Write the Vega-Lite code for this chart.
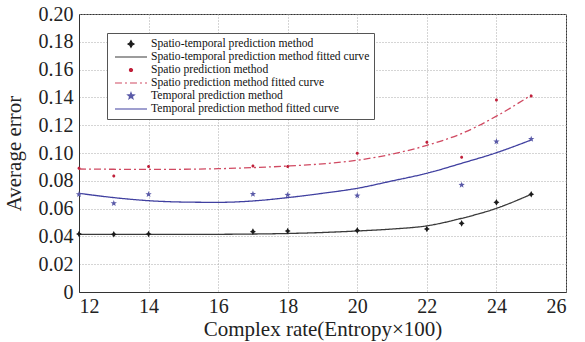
{
  "$schema": "https://vega.github.io/schema/vega-lite/v6.json",
  "width": 487,
  "height": 278,
  "autosize": {"type": "none"},
  "padding": {"left": 79, "top": 14, "right": 19, "bottom": 50},
  "background": "white",
  "config": {
    "view": {"stroke": "#333", "strokeWidth": 1},
    "font": "Liberation Serif",
    "axis": {
      "labelFont": "Liberation Serif",
      "titleFont": "Liberation Serif",
      "labelFontSize": 20,
      "titleFontSize": 21,
      "titleFontWeight": "normal",
      "labelColor": "#222",
      "titleColor": "#222",
      "gridColor": "#aaa",
      "gridDash": [1, 2],
      "gridWidth": 1,
      "domainColor": "#333",
      "ticks": false
    },
    "legend": {
      "orient": "none",
      "legendX": 28,
      "legendY": 19,
      "padding": 4,
      "strokeColor": "#555",
      "fillColor": "white",
      "labelFont": "Liberation Serif",
      "labelFontSize": 11.6,
      "labelColor": "#111",
      "labelLimit": 300,
      "labelOffset": 13,
      "symbolOffset": 13,
      "rowPadding": 0,
      "symbolSize": 144,
      "symbolStrokeWidth": 1.2
    }
  },
  "data": {
    "values": [
      {"series": "Spatio-temporal prediction method", "kind": "pt", "x": 12, "y": 0.0417},
      {"series": "Spatio-temporal prediction method", "kind": "pt", "x": 13, "y": 0.0415},
      {"series": "Spatio-temporal prediction method", "kind": "pt", "x": 14, "y": 0.0417},
      {"series": "Spatio-temporal prediction method", "kind": "pt", "x": 17, "y": 0.0434},
      {"series": "Spatio-temporal prediction method", "kind": "pt", "x": 18, "y": 0.0439},
      {"series": "Spatio-temporal prediction method", "kind": "pt", "x": 20, "y": 0.0443},
      {"series": "Spatio-temporal prediction method", "kind": "pt", "x": 22, "y": 0.0453},
      {"series": "Spatio-temporal prediction method", "kind": "pt", "x": 23, "y": 0.0494},
      {"series": "Spatio-temporal prediction method", "kind": "pt", "x": 24, "y": 0.0645},
      {"series": "Spatio-temporal prediction method", "kind": "pt", "x": 25, "y": 0.0703},
      {"series": "Spatio prediction method", "kind": "pt", "x": 12, "y": 0.089},
      {"series": "Spatio prediction method", "kind": "pt", "x": 13, "y": 0.0834},
      {"series": "Spatio prediction method", "kind": "pt", "x": 14, "y": 0.0902},
      {"series": "Spatio prediction method", "kind": "pt", "x": 17, "y": 0.0906},
      {"series": "Spatio prediction method", "kind": "pt", "x": 18, "y": 0.0902},
      {"series": "Spatio prediction method", "kind": "pt", "x": 20, "y": 0.0998},
      {"series": "Spatio prediction method", "kind": "pt", "x": 22, "y": 0.1077},
      {"series": "Spatio prediction method", "kind": "pt", "x": 23, "y": 0.0969},
      {"series": "Spatio prediction method", "kind": "pt", "x": 24, "y": 0.1381},
      {"series": "Spatio prediction method", "kind": "pt", "x": 25, "y": 0.141},
      {"series": "Temporal prediction method", "kind": "pt", "x": 12, "y": 0.0703},
      {"series": "Temporal prediction method", "kind": "pt", "x": 13, "y": 0.0638},
      {"series": "Temporal prediction method", "kind": "pt", "x": 14, "y": 0.0703},
      {"series": "Temporal prediction method", "kind": "pt", "x": 17, "y": 0.0705},
      {"series": "Temporal prediction method", "kind": "pt", "x": 18, "y": 0.0698},
      {"series": "Temporal prediction method", "kind": "pt", "x": 20, "y": 0.0693},
      {"series": "Temporal prediction method", "kind": "pt", "x": 23, "y": 0.077},
      {"series": "Temporal prediction method", "kind": "pt", "x": 24, "y": 0.1082},
      {"series": "Temporal prediction method", "kind": "pt", "x": 25, "y": 0.110},
      {"series": "Spatio-temporal prediction method fitted curve", "kind": "fit", "x": 12, "y": 0.0414},
      {"series": "Spatio-temporal prediction method fitted curve", "kind": "fit", "x": 13, "y": 0.0414},
      {"series": "Spatio-temporal prediction method fitted curve", "kind": "fit", "x": 14, "y": 0.0414},
      {"series": "Spatio-temporal prediction method fitted curve", "kind": "fit", "x": 15, "y": 0.0414},
      {"series": "Spatio-temporal prediction method fitted curve", "kind": "fit", "x": 16, "y": 0.0415},
      {"series": "Spatio-temporal prediction method fitted curve", "kind": "fit", "x": 17, "y": 0.0417},
      {"series": "Spatio-temporal prediction method fitted curve", "kind": "fit", "x": 18, "y": 0.0421},
      {"series": "Spatio-temporal prediction method fitted curve", "kind": "fit", "x": 19, "y": 0.0428},
      {"series": "Spatio-temporal prediction method fitted curve", "kind": "fit", "x": 20, "y": 0.0439},
      {"series": "Spatio-temporal prediction method fitted curve", "kind": "fit", "x": 21, "y": 0.0453},
      {"series": "Spatio-temporal prediction method fitted curve", "kind": "fit", "x": 22, "y": 0.0476},
      {"series": "Spatio-temporal prediction method fitted curve", "kind": "fit", "x": 23, "y": 0.053},
      {"series": "Spatio-temporal prediction method fitted curve", "kind": "fit", "x": 24, "y": 0.0602},
      {"series": "Spatio-temporal prediction method fitted curve", "kind": "fit", "x": 25, "y": 0.0703},
      {"series": "Spatio prediction method fitted curve", "kind": "fit", "x": 12, "y": 0.0885},
      {"series": "Spatio prediction method fitted curve", "kind": "fit", "x": 13, "y": 0.0883},
      {"series": "Spatio prediction method fitted curve", "kind": "fit", "x": 14, "y": 0.0882},
      {"series": "Spatio prediction method fitted curve", "kind": "fit", "x": 15, "y": 0.0883},
      {"series": "Spatio prediction method fitted curve", "kind": "fit", "x": 16, "y": 0.0887},
      {"series": "Spatio prediction method fitted curve", "kind": "fit", "x": 17, "y": 0.0895},
      {"series": "Spatio prediction method fitted curve", "kind": "fit", "x": 18, "y": 0.0906},
      {"series": "Spatio prediction method fitted curve", "kind": "fit", "x": 19, "y": 0.0922},
      {"series": "Spatio prediction method fitted curve", "kind": "fit", "x": 20, "y": 0.0948},
      {"series": "Spatio prediction method fitted curve", "kind": "fit", "x": 21, "y": 0.0992},
      {"series": "Spatio prediction method fitted curve", "kind": "fit", "x": 22, "y": 0.1055},
      {"series": "Spatio prediction method fitted curve", "kind": "fit", "x": 23, "y": 0.114},
      {"series": "Spatio prediction method fitted curve", "kind": "fit", "x": 24, "y": 0.1265},
      {"series": "Spatio prediction method fitted curve", "kind": "fit", "x": 25, "y": 0.1417},
      {"series": "Temporal prediction method fitted curve", "kind": "fit", "x": 12, "y": 0.071},
      {"series": "Temporal prediction method fitted curve", "kind": "fit", "x": 13, "y": 0.0679},
      {"series": "Temporal prediction method fitted curve", "kind": "fit", "x": 14, "y": 0.0657},
      {"series": "Temporal prediction method fitted curve", "kind": "fit", "x": 15, "y": 0.0647},
      {"series": "Temporal prediction method fitted curve", "kind": "fit", "x": 16, "y": 0.0645},
      {"series": "Temporal prediction method fitted curve", "kind": "fit", "x": 17, "y": 0.0655},
      {"series": "Temporal prediction method fitted curve", "kind": "fit", "x": 18, "y": 0.0679},
      {"series": "Temporal prediction method fitted curve", "kind": "fit", "x": 19, "y": 0.071},
      {"series": "Temporal prediction method fitted curve", "kind": "fit", "x": 20, "y": 0.0746},
      {"series": "Temporal prediction method fitted curve", "kind": "fit", "x": 21, "y": 0.0799},
      {"series": "Temporal prediction method fitted curve", "kind": "fit", "x": 22, "y": 0.0854},
      {"series": "Temporal prediction method fitted curve", "kind": "fit", "x": 23, "y": 0.0926},
      {"series": "Temporal prediction method fitted curve", "kind": "fit", "x": 24, "y": 0.1002},
      {"series": "Temporal prediction method fitted curve", "kind": "fit", "x": 25, "y": 0.1094}
    ]
  },
  "encoding": {
    "x": {
      "field": "x", "type": "quantitative",
      "scale": {"domain": [12, 26], "nice": false, "zero": false},
      "axis": {"values": [12, 14, 16, 18, 20, 22, 24, 26], "title": "Complex rate(Entropy×100)", "labelFont": "Liberation Serif", "labelFontSize": 20, "labelPadding": 4, "titlePadding": 2}
    },
    "y": {
      "field": "y", "type": "quantitative",
      "scale": {"domain": [0, 0.2], "nice": false},
      "axis": {
        "values": [0, 0.02, 0.04, 0.06, 0.08, 0.1, 0.12, 0.14, 0.16, 0.18, 0.2],
        "labelExpr": "datum.value == 0 ? '0' : format(datum.value, '.2f')",
        "labelFont": "Liberation Serif", "labelFontSize": 20,
        "title": "Average error", "labelPadding": 6, "titlePadding": 14
      }
    }
  },
  "layer": [
    {
      "transform": [{"filter": "datum.kind == 'fit'"}],
      "mark": {"type": "line", "interpolate": "monotone", "strokeWidth": 1.3},
      "encoding": {
        "color": {
          "field": "series", "type": "nominal", "sort": null, "title": null,
          "scale": {
            "domain": ["Spatio-temporal prediction method", "Spatio-temporal prediction method fitted curve", "Spatio prediction method", "Spatio prediction method fitted curve", "Temporal prediction method", "Temporal prediction method fitted curve"],
            "range": ["#1a1a1a", "#3a3a3a", "#c0203a", "#d04a62", "#5a5aa8", "#4040a0"]
          }
        },
        "strokeDash": {
          "field": "series", "type": "nominal", "sort": null, "title": null,
          "scale": {
            "domain": ["Spatio-temporal prediction method", "Spatio-temporal prediction method fitted curve", "Spatio prediction method", "Spatio prediction method fitted curve", "Temporal prediction method", "Temporal prediction method fitted curve"],
            "range": [[1, 0], [1, 0], [1, 0], [7, 3, 2, 3], [1, 0], [1, 0]]
          }
        }
      }
    },
    {
      "transform": [{"filter": "datum.kind == 'pt'"}],
      "mark": {"type": "point", "filled": true, "opacity": 1, "size": 144},
      "encoding": {
        "color": {"field": "series", "type": "nominal", "sort": null, "title": null},
        "shape": {
          "field": "series", "type": "nominal", "sort": null, "title": null,
          "scale": {
            "domain": ["Spatio-temporal prediction method", "Spatio-temporal prediction method fitted curve", "Spatio prediction method", "Spatio prediction method fitted curve", "Temporal prediction method", "Temporal prediction method fitted curve"],
            "range": [
              "M0,-0.55L0.2,-0.18L0.5,0L0.2,0.18L0,0.55L-0.2,0.18L-0.5,0L-0.2,-0.18Z",
              "M-2.67,0L2.67,0",
              "M0.25,0A0.25,0.25 0 1,1 -0.25,0A0.25,0.25 0 1,1 0.25,0Z",
              "M-2.67,0L2.67,0",
              "M0,-0.55L0.135,-0.185L0.523,-0.17L0.218,0.07L0.323,0.445L0,0.23L-0.323,0.445L-0.218,0.07L-0.523,-0.17L-0.135,-0.185Z",
              "M-2.67,0L2.67,0"
            ]
          }
        }
      }
    }
  ]
}
